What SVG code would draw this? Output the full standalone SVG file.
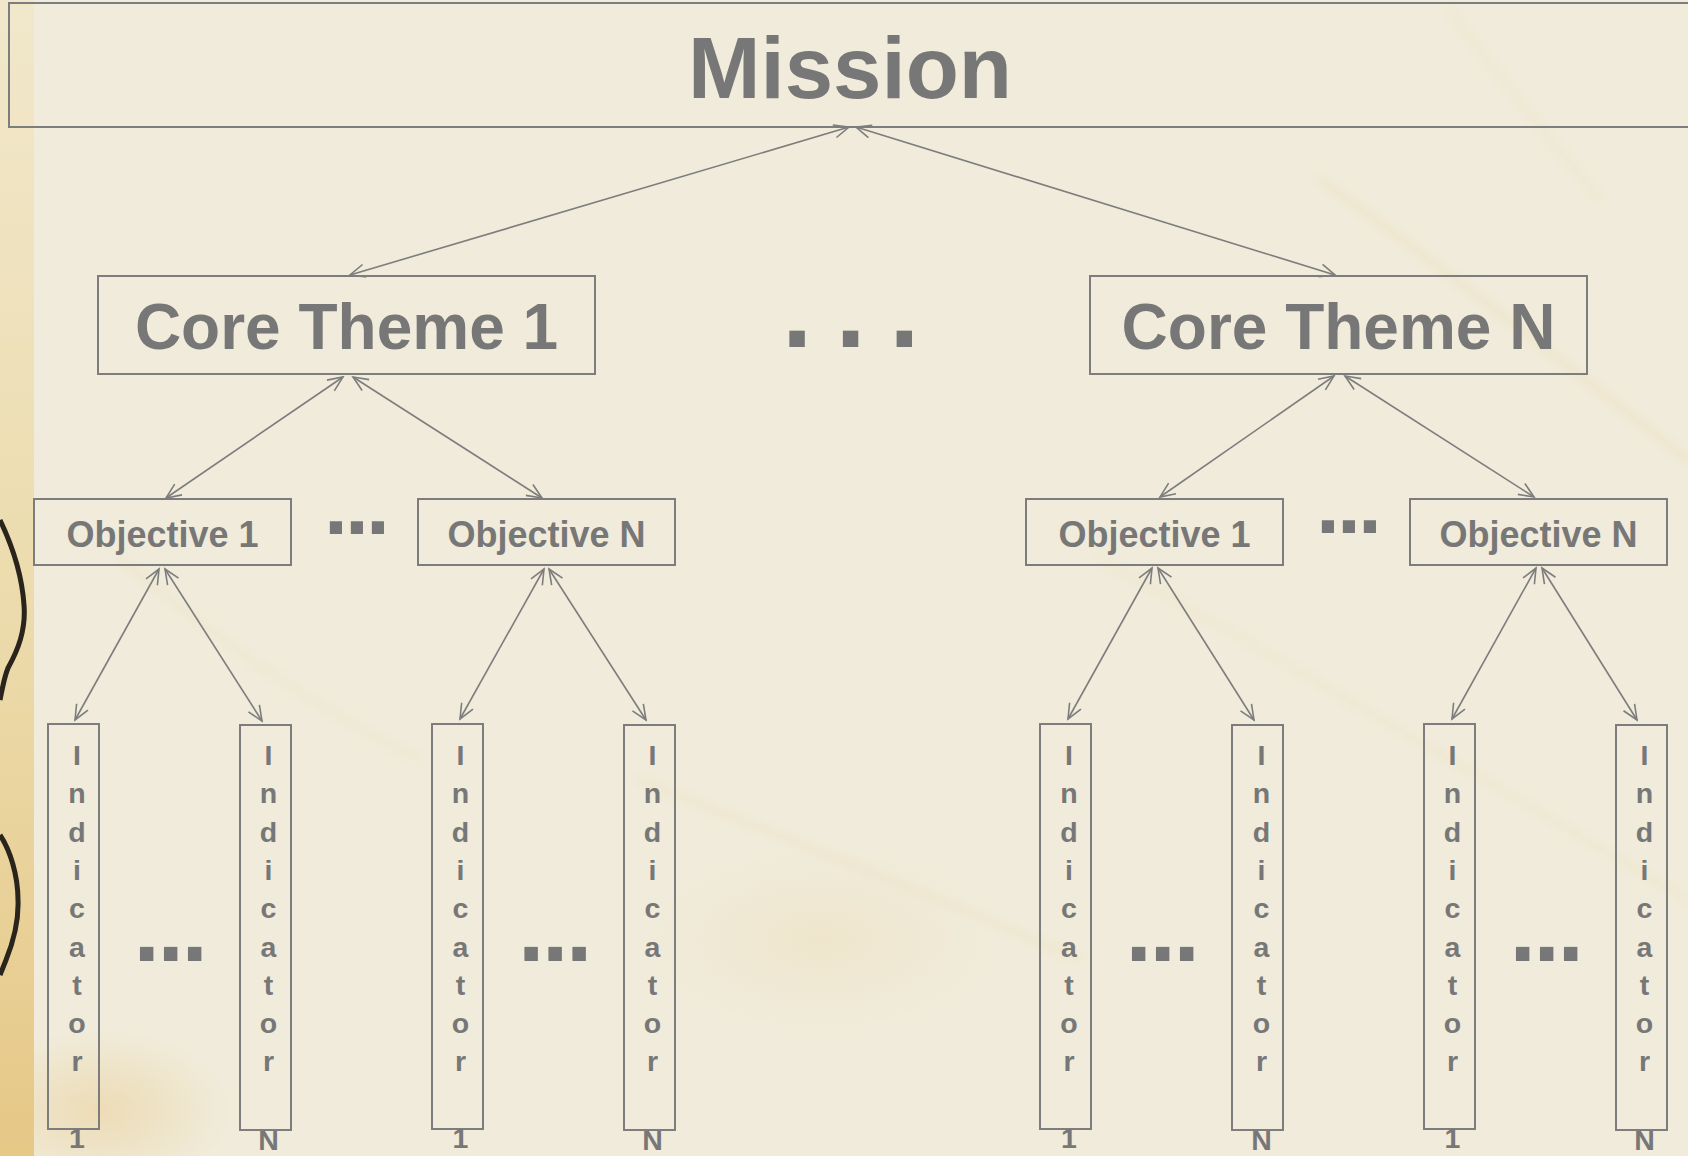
<svg xmlns="http://www.w3.org/2000/svg" width="1688" height="1156" viewBox="0 0 1688 1156">
  <defs>
    <style>
      .box { fill: none; stroke: #7d7d7d; stroke-width: 2; }
      .t { font-family: "Liberation Sans", Arial, sans-serif; font-weight: bold; fill: #777777; }
      .mission { font-size: 87px; }
      .theme { font-size: 64px; }
      .obj { font-size: 36px; }
      .ind { font-size: 28.5px; }
      .conn line { stroke: #7d7d7d; stroke-width: 1.6; marker-start: url(#arr); marker-end: url(#arr); }
      .vein { fill: none; stroke: #e9d3a2; stroke-linecap: round; }
    </style>
    <marker id="arr" viewBox="-16 -8 18 16" markerWidth="18" markerHeight="16" refX="0" refY="0" orient="auto-start-reverse" markerUnits="userSpaceOnUse">
      <path d="M-15,-6.5 L0,0 L-15,6.5" fill="none" stroke="#7d7d7d" stroke-width="1.6"/>
    </marker>
    <linearGradient id="strip" x1="0" y1="0" x2="0" y2="1">
      <stop offset="0" stop-color="#f1e7cb"/>
      <stop offset="0.5" stop-color="#ecdcae"/>
      <stop offset="1" stop-color="#e6c887"/>
    </linearGradient>
    <radialGradient id="blot" cx="0.5" cy="0.5" r="0.5">
      <stop offset="0" stop-color="#ebd3a0" stop-opacity="0.8"/>
      <stop offset="1" stop-color="#ebd3a0" stop-opacity="0"/>
    </radialGradient>
    <filter id="soft" x="-10%" y="-10%" width="120%" height="120%">
      <feGaussianBlur stdDeviation="4"/>
    </filter>
  </defs>

  <!-- background -->
  <rect x="0" y="0" width="1688" height="1156" fill="#f0ebda"/>
  <ellipse cx="100" cy="1110" rx="130" ry="80" fill="url(#blot)" opacity="0.8"/>
  <ellipse cx="820" cy="940" rx="170" ry="90" fill="url(#blot)" opacity="0.3"/>
  <g filter="url(#soft)" opacity="0.35">
    <path class="vein" stroke-width="5" d="M1320,180 C1420,250 1560,360 1688,460"/>
    <path class="vein" stroke-width="4" d="M640,780 C760,830 900,880 1080,960"/>
    <path class="vein" stroke-width="3" d="M1100,560 C1250,640 1450,760 1688,900"/>
    <path class="vein" stroke-width="3" d="M120,560 C220,640 300,700 420,760"/>
    <path class="vein" stroke-width="3" d="M1450,10 C1500,80 1560,150 1600,200"/>
  </g>
  <rect x="0" y="0" width="34" height="1156" fill="url(#strip)"/>
  <path d="M0,520 C12,545 22,575 24,605 C26,630 18,650 8,668 C4,678 2,690 0,700" fill="none" stroke="#2a251c" stroke-width="5"/>
  <path d="M0,835 C10,850 18,875 18,900 C19,925 12,945 6,960 L0,975" fill="none" stroke="#2a251c" stroke-width="5"/>

  <!-- connectors -->
  <g id="connectors" class="conn">
    <line x1="849" y1="127" x2="350" y2="275"/>
    <line x1="856" y1="127" x2="1335" y2="275"/>
    <line x1="343" y1="377" x2="166" y2="498"/>
    <line x1="353" y1="377" x2="542" y2="498"/>
    <line x1="1334" y1="376" x2="1160" y2="497"/>
    <line x1="1345" y1="376" x2="1534" y2="497"/>
    <line x1="159" y1="569" x2="75" y2="720"/>
    <line x1="165" y1="569" x2="262" y2="721"/>
    <line x1="544" y1="569" x2="460" y2="719"/>
    <line x1="549" y1="569" x2="646" y2="720"/>
    <line x1="1152" y1="568" x2="1068" y2="719"/>
    <line x1="1158" y1="568" x2="1254" y2="720"/>
    <line x1="1536" y1="568" x2="1452" y2="719"/>
    <line x1="1542" y1="568" x2="1637" y2="720"/>
  </g>

  <!-- nodes -->
  <g id="mission">
    <rect class="box" x="9" y="3" width="1684" height="124"/>
    <text class="t mission" x="850" y="98" text-anchor="middle">Mission</text>
  </g>
  <g id="core-theme-1">
    <rect class="box" x="98" y="276" width="497" height="98"/>
    <text class="t theme" x="346.5" y="349" text-anchor="middle">Core Theme 1</text>
  </g>
  <g id="core-theme-n">
    <rect class="box" x="1090" y="276" width="497" height="98"/>
    <text class="t theme" x="1338.5" y="349" text-anchor="middle">Core Theme N</text>
  </g>
  <g id="core-dots">
    <text class="t" x="782" y="347" font-size="109" letter-spacing="-3.5">. . .</text>
  </g>

  <g id="objective-1-a">
    <rect class="box" x="34" y="499" width="257" height="66"/>
    <text class="t obj" x="162.5" y="547" text-anchor="middle">Objective 1</text>
  </g>
  <g id="objective-n-a">
    <rect class="box" x="418" y="499" width="257" height="66"/>
    <text class="t obj" x="546.5" y="547" text-anchor="middle">Objective N</text>
  </g>
  <g id="objective-dots-a">
    <text class="t" x="324" y="534" font-size="86" letter-spacing="-2.9">...</text>
  </g>
  <g id="objective-1-b">
    <rect class="box" x="1026" y="499" width="257" height="66"/>
    <text class="t obj" x="1154.5" y="547" text-anchor="middle">Objective 1</text>
  </g>
  <g id="objective-n-b">
    <rect class="box" x="1410" y="499" width="257" height="66"/>
    <text class="t obj" x="1538.5" y="547" text-anchor="middle">Objective N</text>
  </g>
  <g id="objective-dots-b">
    <text class="t" x="1316" y="533" font-size="86" letter-spacing="-2.9">...</text>
  </g>

  <!-- indicators -->
  <g id="indicator-1-a">
    <rect class="box" x="48" y="724" width="51" height="405"/>
    <text class="t ind" text-anchor="middle"><tspan x="77" y="765">I</tspan><tspan x="77" y="803.3">n</tspan><tspan x="77" y="841.6">d</tspan><tspan x="77" y="879.9">i</tspan><tspan x="77" y="918.2">c</tspan><tspan x="77" y="956.5">a</tspan><tspan x="77" y="994.8">t</tspan><tspan x="77" y="1033.1">o</tspan><tspan x="77" y="1071.4">r</tspan><tspan x="77" y="1148">1</tspan></text>
  </g>
  <g id="indicator-n-a">
    <rect class="box" x="240" y="725" width="51" height="405"/>
    <text class="t ind" text-anchor="middle"><tspan x="268.5" y="765">I</tspan><tspan x="268.5" y="803.3">n</tspan><tspan x="268.5" y="841.6">d</tspan><tspan x="268.5" y="879.9">i</tspan><tspan x="268.5" y="918.2">c</tspan><tspan x="268.5" y="956.5">a</tspan><tspan x="268.5" y="994.8">t</tspan><tspan x="268.5" y="1033.1">o</tspan><tspan x="268.5" y="1071.4">r</tspan><tspan x="268.5" y="1150">N</tspan></text>
  </g>
  <g id="indicator-dots-a">
    <text class="t" x="133.5" y="961" font-size="95" letter-spacing="-2.4">...</text>
  </g>
  <g id="indicator-1-b">
    <rect class="box" x="432" y="724" width="51" height="405"/>
    <text class="t ind" text-anchor="middle"><tspan x="460.5" y="765">I</tspan><tspan x="460.5" y="803.3">n</tspan><tspan x="460.5" y="841.6">d</tspan><tspan x="460.5" y="879.9">i</tspan><tspan x="460.5" y="918.2">c</tspan><tspan x="460.5" y="956.5">a</tspan><tspan x="460.5" y="994.8">t</tspan><tspan x="460.5" y="1033.1">o</tspan><tspan x="460.5" y="1071.4">r</tspan><tspan x="460.5" y="1148">1</tspan></text>
  </g>
  <g id="indicator-n-b">
    <rect class="box" x="624" y="725" width="51" height="405"/>
    <text class="t ind" text-anchor="middle"><tspan x="652.5" y="765">I</tspan><tspan x="652.5" y="803.3">n</tspan><tspan x="652.5" y="841.6">d</tspan><tspan x="652.5" y="879.9">i</tspan><tspan x="652.5" y="918.2">c</tspan><tspan x="652.5" y="956.5">a</tspan><tspan x="652.5" y="994.8">t</tspan><tspan x="652.5" y="1033.1">o</tspan><tspan x="652.5" y="1071.4">r</tspan><tspan x="652.5" y="1150">N</tspan></text>
  </g>
  <g id="indicator-dots-b">
    <text class="t" x="518" y="961" font-size="95" letter-spacing="-2.4">...</text>
  </g>
  <g id="indicator-1-c">
    <rect class="box" x="1040" y="724" width="51" height="405"/>
    <text class="t ind" text-anchor="middle"><tspan x="1069" y="765">I</tspan><tspan x="1069" y="803.3">n</tspan><tspan x="1069" y="841.6">d</tspan><tspan x="1069" y="879.9">i</tspan><tspan x="1069" y="918.2">c</tspan><tspan x="1069" y="956.5">a</tspan><tspan x="1069" y="994.8">t</tspan><tspan x="1069" y="1033.1">o</tspan><tspan x="1069" y="1071.4">r</tspan><tspan x="1069" y="1148">1</tspan></text>
  </g>
  <g id="indicator-n-c">
    <rect class="box" x="1232" y="725" width="51" height="405"/>
    <text class="t ind" text-anchor="middle"><tspan x="1261.5" y="765">I</tspan><tspan x="1261.5" y="803.3">n</tspan><tspan x="1261.5" y="841.6">d</tspan><tspan x="1261.5" y="879.9">i</tspan><tspan x="1261.5" y="918.2">c</tspan><tspan x="1261.5" y="956.5">a</tspan><tspan x="1261.5" y="994.8">t</tspan><tspan x="1261.5" y="1033.1">o</tspan><tspan x="1261.5" y="1071.4">r</tspan><tspan x="1261.5" y="1150">N</tspan></text>
  </g>
  <g id="indicator-dots-c">
    <text class="t" x="1125.5" y="961" font-size="95" letter-spacing="-2.4">...</text>
  </g>
  <g id="indicator-1-d">
    <rect class="box" x="1424" y="724" width="51" height="405"/>
    <text class="t ind" text-anchor="middle"><tspan x="1452.5" y="765">I</tspan><tspan x="1452.5" y="803.3">n</tspan><tspan x="1452.5" y="841.6">d</tspan><tspan x="1452.5" y="879.9">i</tspan><tspan x="1452.5" y="918.2">c</tspan><tspan x="1452.5" y="956.5">a</tspan><tspan x="1452.5" y="994.8">t</tspan><tspan x="1452.5" y="1033.1">o</tspan><tspan x="1452.5" y="1071.4">r</tspan><tspan x="1452.5" y="1148">1</tspan></text>
  </g>
  <g id="indicator-n-d">
    <rect class="box" x="1616" y="725" width="51" height="405"/>
    <text class="t ind" text-anchor="middle"><tspan x="1644.5" y="765">I</tspan><tspan x="1644.5" y="803.3">n</tspan><tspan x="1644.5" y="841.6">d</tspan><tspan x="1644.5" y="879.9">i</tspan><tspan x="1644.5" y="918.2">c</tspan><tspan x="1644.5" y="956.5">a</tspan><tspan x="1644.5" y="994.8">t</tspan><tspan x="1644.5" y="1033.1">o</tspan><tspan x="1644.5" y="1071.4">r</tspan><tspan x="1644.5" y="1150">N</tspan></text>
  </g>
  <g id="indicator-dots-d">
    <text class="t" x="1509.5" y="961" font-size="95" letter-spacing="-2.4">...</text>
  </g>
</svg>
